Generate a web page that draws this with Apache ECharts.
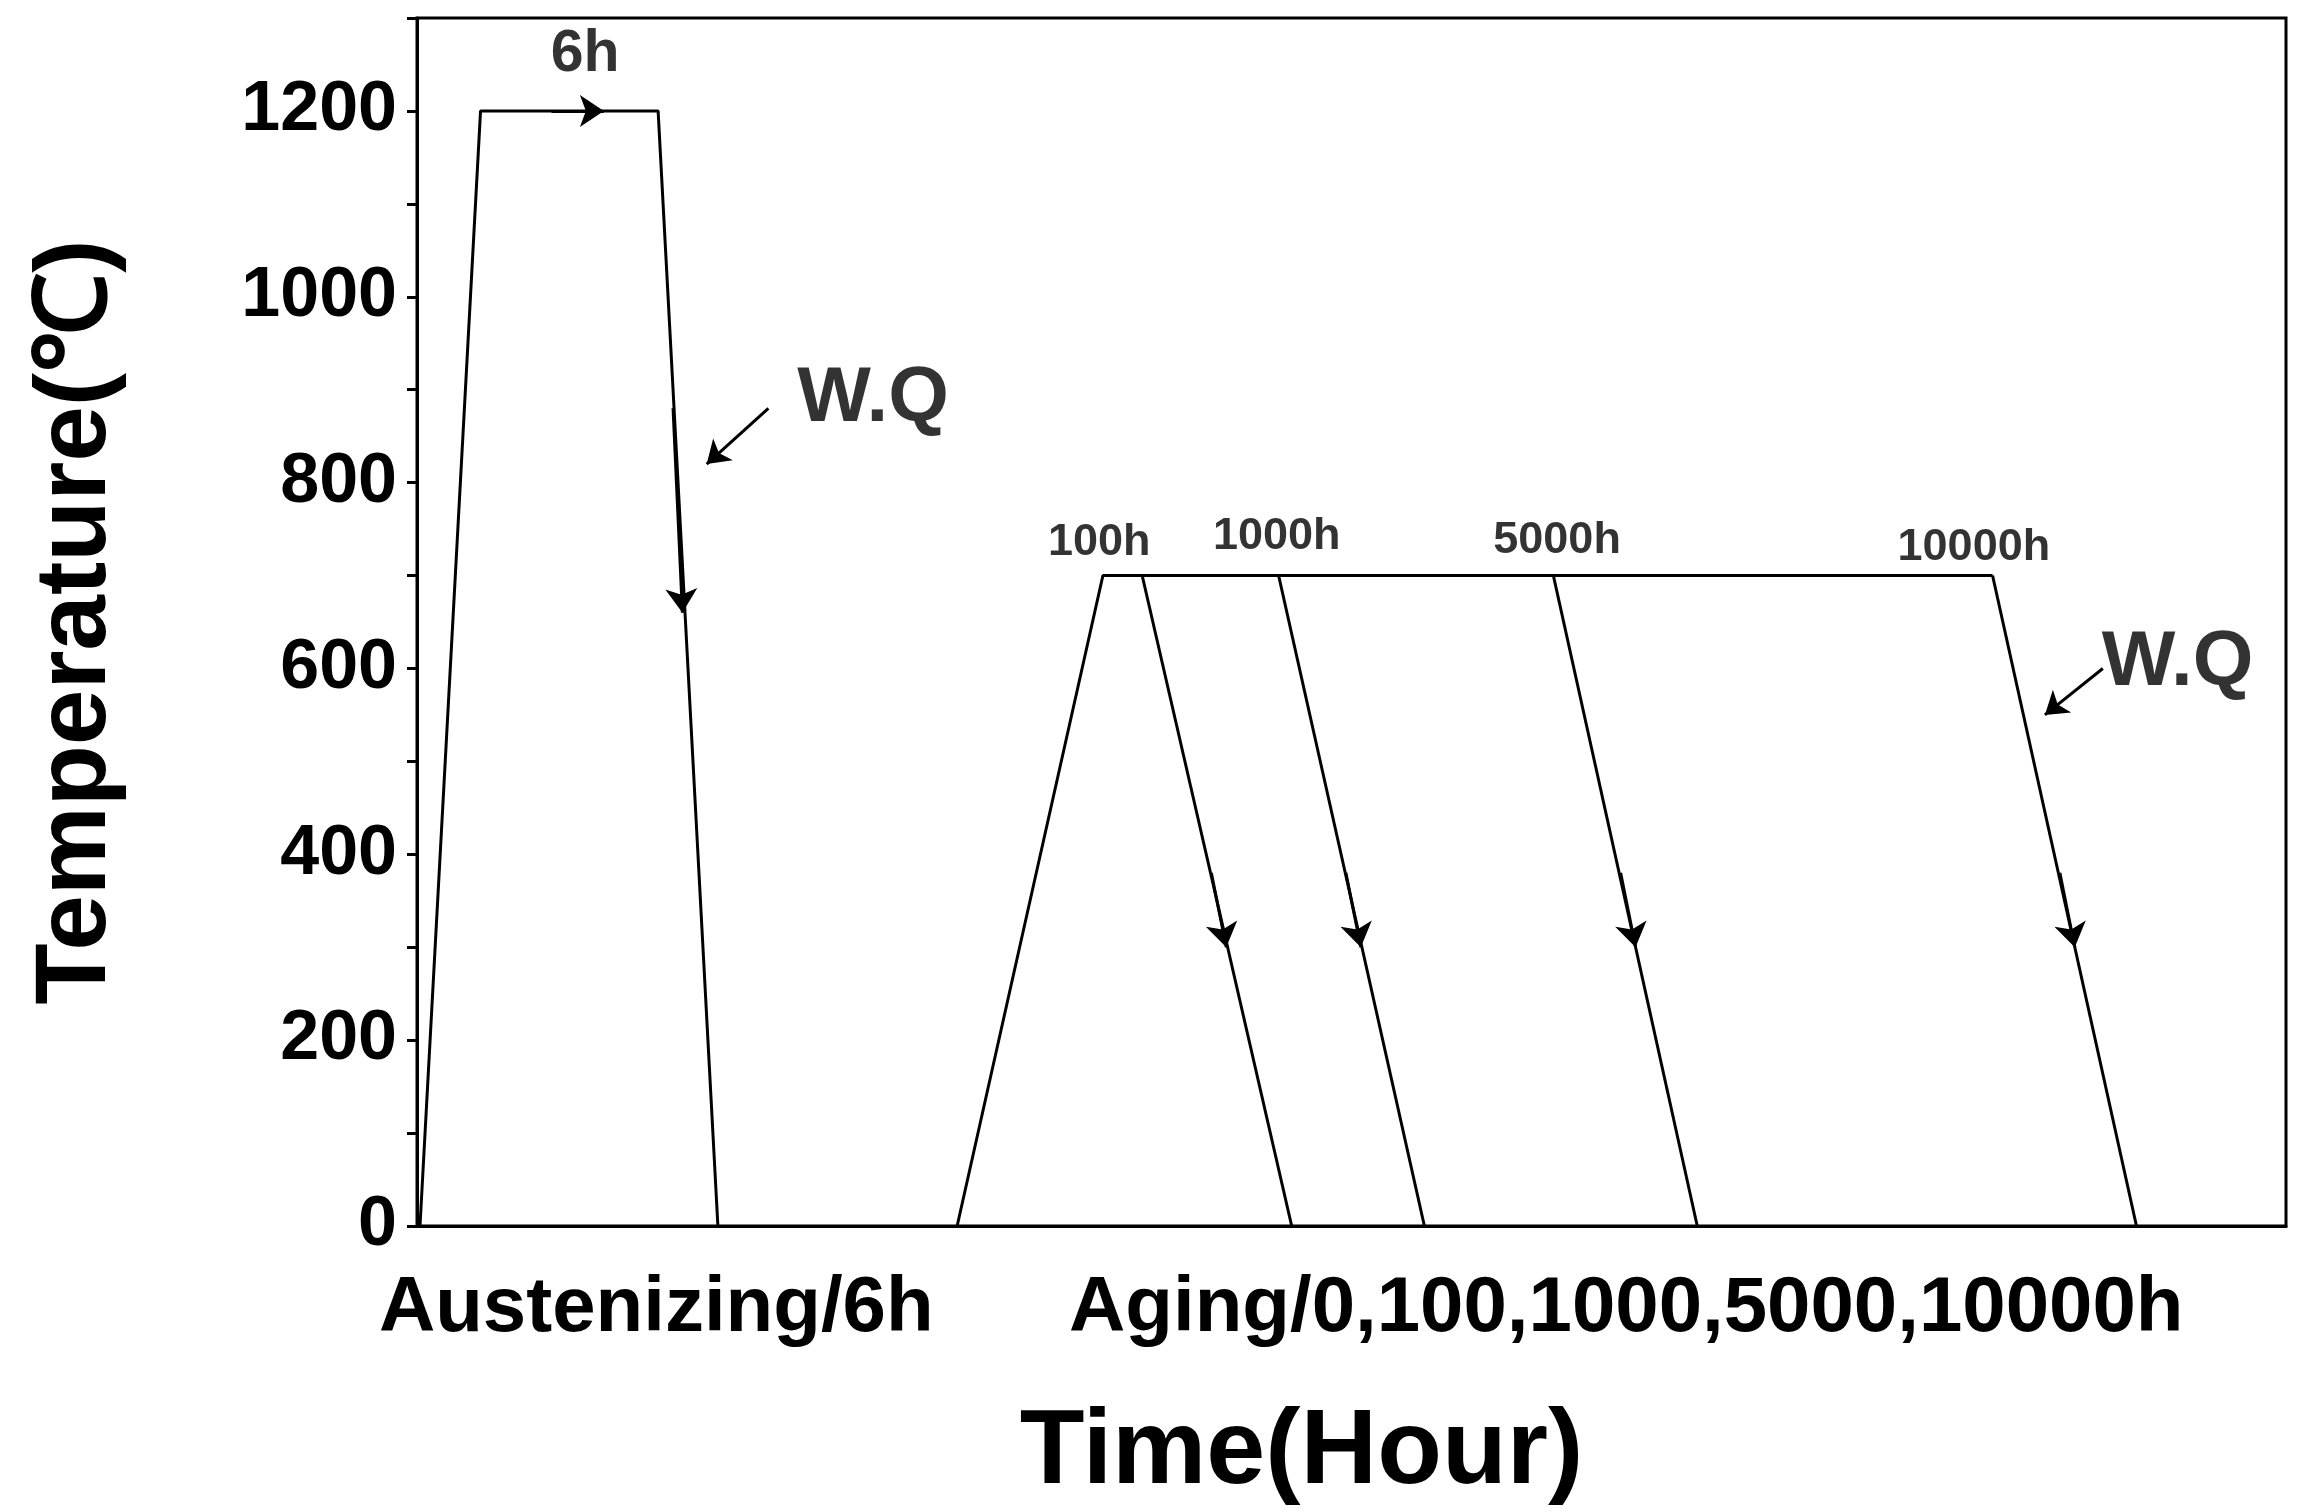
<!DOCTYPE html><html><head><meta charset="utf-8"><script src="https://cdn.jsdelivr.net/npm/echarts@6/dist/echarts.min.js"></script>
<style>html,body{margin:0;background:#fff}#c{width:2308px;height:1512px}</style></head><body><div id="c"></div><script>
const yTicks=[0,200,400,600,800,1000,1200];
const austenPath=[[0.16,0],[3.4,1200],[12.9,1200],[16.1,0]];
const agingRise=[[28.9,0],[36.7,700],[84.3,700]];
const drops=[[[38.8,700],[46.8,0]],[[46.1,700],[53.9,0]],[[60.8,700],[68.5,0]],[[84.3,700],[92.0,0]]];
const midArrows=[[[7.2,1200],[10.0,1200]],[[13.7,880],[14.2,660]],[[42.5,380],[43.3,300]],[[49.7,380],[50.5,300]],[[64.4,380],[65.2,300]],[[87.9,380],[88.7,300]]];
const wqArrows=[[[18.8,880],[15.5,820]],[[90.2,600],[87.1,550]]];
const notes=[["6h",9.0,1260,59],["W.Q",24.4,890,78],["100h",36.5,735,45],["1000h",46.0,742,45],["5000h",61.0,738,45],["10000h",83.3,730,45],["W.Q",94.2,605,78]];
const xCats=[["Austenizing/6h",12.8],["Aging/0,100,1000,5000,10000h",64.7]];
const F='"Liberation Sans",Arial,sans-serif';
const ch=echarts.init(document.getElementById('c'));
const ls={color:'#000',width:3};
const series=[
 {type:'line',data:austenPath,symbol:'none',lineStyle:ls},
 {type:'line',data:agingRise,symbol:'none',lineStyle:ls},
 ...drops.map(d=>({type:'line',data:d,symbol:'none',lineStyle:ls})),
 {type:'lines',coordinateSystem:'cartesian2d',symbol:['none','arrow'],symbolSize:24,lineStyle:{color:'#000',width:3,opacity:1},data:midArrows.map(c=>({coords:c}))},
 {type:'lines',coordinateSystem:'cartesian2d',symbol:['none','arrow'],symbolSize:22,lineStyle:{color:'#000',width:3,opacity:1},data:wqArrows.map(c=>({coords:c}))},
 {type:'scatter',symbolSize:0,data:notes.map(n=>({value:[n[1],n[2]],label:{show:true,formatter:n[0],fontSize:n[3],fontWeight:'bold',fontFamily:F,color:'#000',position:'inside'}}))}
];
ch.setOption({animation:false,
 grid:{left:417,right:22,top:18,bottom:264,show:true,borderColor:'#000',borderWidth:3},
 xAxis:{type:'value',min:0,max:100,axisLine:{lineStyle:{color:'#000',width:3}},axisTick:{show:false},axisLabel:{show:false},splitLine:{show:false},
  name:'Time(Hour)',nameLocation:'middle',nameGap:175,nameTextStyle:{fontSize:106,fontWeight:'bold',fontFamily:F,color:'#000',padding:[0,0,0,-100]}},
 yAxis:{type:'value',min:0,max:1300,interval:100,axisLine:{lineStyle:{color:'#000',width:3}},
  axisTick:{inside:false,length:10,lineStyle:{width:3},interval:0},splitLine:{show:false},
  axisLabel:{fontSize:70,fontWeight:'bold',fontFamily:F,color:'#000',margin:20,formatter:v=>yTicks.includes(v)?String(v):''},
  name:'Temperature(℃)',nameLocation:'middle',nameGap:290,nameTextStyle:{fontSize:100,fontWeight:'bold',fontFamily:F,color:'#000'}},
 graphic:xCats.map(c=>({type:'text',x:417+(2286-417)*c[1]/100,y:1270,style:{text:c[0],font:'bold 78px '+F,fill:'#000',textAlign:'center'}})),
 series});
</script></body></html>
